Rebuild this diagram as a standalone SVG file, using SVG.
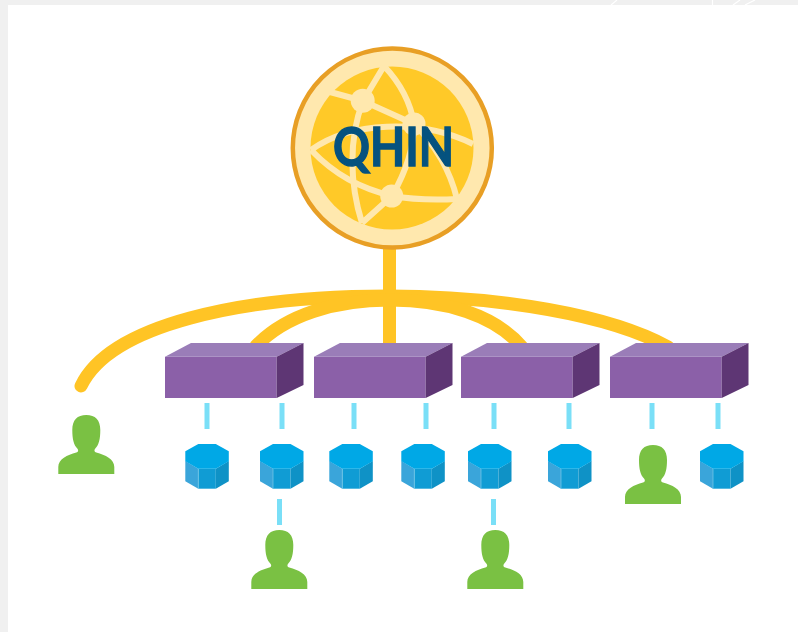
<svg xmlns="http://www.w3.org/2000/svg" xmlns:xlink="http://www.w3.org/1999/xlink" width="798" height="632" viewBox="0 0 798 632">
<style>
.trunk{fill:none;stroke:#FFC425;stroke-width:13}
.dash{fill:none;stroke:#7ADFF7;stroke-width:5}
.net{fill:none;stroke:#FFE8AE;stroke-width:6}
.dot{fill:#FFE8AE}
.person{fill:#7AC143}
.bf{fill:#8B60A8}.bt{fill:#9A7DB8}.bs{fill:#5E3674}
.ot{fill:#00A8E6}.ol{fill:#3AA5DA}.om{fill:#109CD4}.or{fill:#0F92C6}
.streak{fill:none;stroke:#fff;stroke-width:1.2}
</style>
<defs>
<g id="box">
<polygon class="bf" points="0,13.700 111.700,13.700 111.700,55 0,55"/>
<polygon class="bt" points="0,13.700 26,0 138.500,0 111.700,13.700"/>
<polygon class="bs" points="111.700,13.700 138.500,0 138.500,42 111.700,55"/>
</g>
<g id="oct">
<polygon class="ol" points="0,17 13,24.700 13,44.700 0,37.300"/>
<polygon class="om" points="13,24.700 30.500,24.700 30.500,44.700 13,44.700"/>
<polygon class="or" points="30.500,24.700 43.500,17 43.500,37.300 30.500,44.700"/>
<line x1="13" y1="24.700" x2="13" y2="44.700" stroke="#7CCBEA" stroke-width="0.700"/>
<polygon class="ot" points="0,7.300 13,0 30.500,0 43.500,7.300 43.500,17.300 30.500,24.700 13,24.700 0,17.300"/>
</g>
<path id="man" class="person" d="M-28 59V52C-28 44-19 40-10 37.500C-8 37-7.500 35-9 33.500C-12.500 30-14 24-14 15C-14 5-9 0 0 0C9 0 14 5 14 15C14 24 12.500 30 9 33.500C7.500 35 8 37 10 37.500C19 40 28 44 28 52V59Z"/>
</defs>
<rect width="798" height="632" fill="#F0F0F0"/>
<rect x="8" y="5" width="790" height="627" fill="#fff"/>
<g id="streaks">
<path class="streak" d="M617 0L611 5M712.500 0V5M740 0L733 5M755 0L745 5"/>
</g>
<g id="connectors">
<path class="trunk" d="M389.500 246V347"/>
<path class="trunk" stroke-linecap="round" d="M81 386C110 325 240 296 388 296C500 296 610 315 668 347"/>
<path class="trunk" d="M255 347C285 315 335 300 390 300C445 300 495 315 522 347"/>
<path class="dash" d="M207 403V429M282 403V429M354 403V429M426 403V429M494 403V429M569 403V429M652 403V429M718 403V429M279.500 499V525M493.500 499V525"/>
</g>
<g id="qhin">
<circle cx="392.300" cy="148" r="99.500" fill="#FFE8AE" stroke="#E89F25" stroke-width="4.500"/>
<circle cx="392" cy="148" r="81.500" fill="#FFC928"/>
<path class="net" d="M330 92L363 101L384 66M363 101L414 124M384 66C402 85 411 105 414 124C414 150 404 175 392 196M363 101C348 140 350 185 362 223M414 124C435 145 450 170 457 199M311 150C350 122 420 118 473 144M311 150C335 175 360 188 392 196L362 223M392 196C415 200 437 200 457 199"/>
<circle class="dot" cx="362.700" cy="100.700" r="12"/>
<circle class="dot" cx="414" cy="124" r="11.500"/>
<circle class="dot" cx="391.700" cy="196" r="11.500"/>
<text x="393.500" y="166" font-family="Lato,'Open Sans',sans-serif" font-weight="700" font-size="53" fill="#05527F" stroke="#05527F" stroke-width="1.300" text-anchor="middle" textLength="121" lengthAdjust="spacingAndGlyphs">QHIN</text>
</g>
<use id="box1" xlink:href="#box" href="#box" x="165" y="343"/>
<use id="box2" xlink:href="#box" href="#box" x="314" y="343"/>
<use id="box3" xlink:href="#box" href="#box" x="461" y="343"/>
<use id="box4" xlink:href="#box" href="#box" x="610" y="343"/>
<use id="oct1" xlink:href="#oct" href="#oct" x="185.300" y="444"/>
<use id="oct2" xlink:href="#oct" href="#oct" x="260" y="444"/>
<use id="oct3" xlink:href="#oct" href="#oct" x="329.300" y="444"/>
<use id="oct4" xlink:href="#oct" href="#oct" x="401.300" y="444"/>
<use id="oct5" xlink:href="#oct" href="#oct" x="468" y="444"/>
<use id="oct6" xlink:href="#oct" href="#oct" x="548" y="444"/>
<use id="oct7" xlink:href="#oct" href="#oct" x="700" y="444"/>
<use id="person1" xlink:href="#man" href="#man" x="86.300" y="415"/>
<use id="person2" xlink:href="#man" href="#man" x="653" y="445"/>
<use id="person3" xlink:href="#man" href="#man" x="279.300" y="530"/>
<use id="person4" xlink:href="#man" href="#man" x="495.300" y="530"/>
</svg>
